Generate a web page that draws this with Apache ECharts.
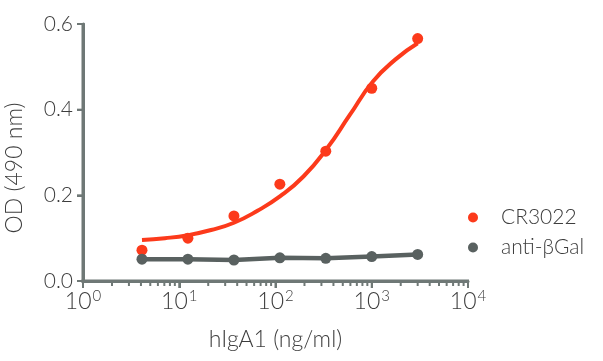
<!DOCTYPE html>
<html><head><meta charset="utf-8">
<script src="https://cdn.jsdelivr.net/npm/echarts@6/dist/echarts.min.js"></script>
<style>html,body{margin:0;padding:0;background:#fff}#c{width:603px;height:361px}</style>
</head><body><div id="c"></div>
<script>
// concentrations (ng/ml)
var conc = [4.1, 12.3, 37, 111, 333, 1000, 3000];
var cr3022 = [0.072, 0.100, 0.152, 0.226, 0.303, 0.450, 0.566];
var antiBGal = [0.051, 0.051, 0.049, 0.054, 0.053, 0.057, 0.062];
// fitted curve for CR3022
var fitX = [4.1, 7.1, 12.3, 21.4, 37, 65, 112, 195, 339, 589, 1023, 1778, 3000];
var fitY = [0.096, 0.100, 0.107, 0.119, 0.136, 0.164, 0.198, 0.244, 0.308, 0.387, 0.465, 0.518, 0.555];
var xDomain = [1, 10000];
var yDomain = [0, 0.6];
var xMajor = [1, 10, 100, 1000, 10000];
var yTicks = [0, 0.2, 0.4, 0.6];
var xMinor = [2, 3, 4, 5, 6, 7, 8, 9, 20, 30, 40, 50, 60, 70, 80, 90,
  200, 300, 400, 500, 600, 700, 800, 900, 2000, 3000, 4000, 5000, 6000, 7000, 8000, 9000];

var FONT = 'Lato';
var TXT = '#3d3d3d';
var AX = '#6f7876';
var RED = '#fc3a1b';
var GRAY = '#596160';

function pairs(xs, ys) { return xs.map(function (x, i) { return [x, ys[i]]; }); }

var chart = echarts.init(document.getElementById('c'));
chart.setOption({
  animation: false,
  textStyle: { fontFamily: FONT, fontWeight: 300 },
  grid: { left: 83, right: 135, top: 24, bottom: 80, containLabel: false },
  legend: {
    orient: 'vertical', left: 463, top: 202, itemGap: 9, itemWidth: 10, itemHeight: 10,
    icon: 'circle',
    data: ['CR3022', 'anti-βGal'],
    textStyle: { fontFamily: FONT, fontWeight: 300, fontSize: 21, color: TXT, padding: [0, 0, 0, 18] }
  },
  xAxis: {
    type: 'log', logBase: 10, min: xDomain[0], max: xDomain[1],
    name: 'hIgA1 (ng/ml)', nameLocation: 'middle', nameGap: 47,
    nameTextStyle: { fontFamily: FONT, fontWeight: 300, fontSize: 23, color: TXT },
    axisLine: { show: true, onZero: false, lineStyle: { color: AX, width: 3 } },
    axisTick: { show: true, length: 7, lineStyle: { color: AX, width: 2 } },
    splitLine: { show: false },
    axisLabel: {
      margin: 8, color: TXT, fontFamily: FONT, fontWeight: 300, fontSize: 23,
      formatter: function (v) { return '10{s|' + Math.round(Math.log10(v)) + '}'; },
      rich: { s: { fontSize: 15, fontFamily: FONT, fontWeight: 300, color: TXT, verticalAlign: 'bottom', padding: [0, 0, 10, 1] } }
    }
  },
  yAxis: {
    type: 'value', min: yDomain[0], max: yDomain[1], interval: 0.2,
    axisLine: { show: true, onZero: false, lineStyle: { color: AX, width: 3 } },
    axisTick: { show: true, length: 6, lineStyle: { color: AX, width: 2 } },
    splitLine: { show: false },
    axisLabel: { margin: 10, color: TXT, fontFamily: FONT, fontWeight: 300, fontSize: 21,
      formatter: function (v) { return v.toFixed(1); } }
  },
  graphic: [{
    type: 'text', x: 15, y: 168, rotation: Math.PI / 2,
    style: { text: 'OD (490 nm)', fontFamily: FONT, fontWeight: 300, fontSize: 23, fill: TXT,
      align: 'center', verticalAlign: 'middle' }
  }],
  series: [{
    name: 'axis frame', type: 'custom', silent: true, clip: false, z: 5,
    data: [[xDomain[0], yDomain[0], xDomain[1], yDomain[1]]],
    renderItem: function (params, api) {
      var o = api.coord([api.value(0), api.value(1)]);
      var xe = api.coord([api.value(2), api.value(1)]);
      var ye = api.coord([api.value(0), api.value(3)]);
      var children = [
        { type: 'line', shape: { x1: o[0] - 1.5, y1: o[1], x2: xe[0] + 1, y2: xe[1] }, style: { stroke: AX, lineWidth: 3 } },
        { type: 'line', shape: { x1: o[0], y1: o[1] + 1.5, x2: ye[0], y2: ye[1] - 1 }, style: { stroke: AX, lineWidth: 3 } }
      ];
      xMajor.forEach(function (v) {
        var p = api.coord([v, yDomain[0]]);
        children.push({ type: 'line', shape: { x1: p[0], y1: p[1], x2: p[0], y2: p[1] + 7 }, style: { stroke: AX, lineWidth: 2 } });
      });
      yTicks.forEach(function (v) {
        var p = api.coord([xDomain[0], v]);
        children.push({ type: 'line', shape: { x1: p[0] - 6, y1: p[1], x2: p[0], y2: p[1] }, style: { stroke: AX, lineWidth: 2 } });
      });
      return { type: 'group', children: children };
    }
  }, {
    name: 'minor ticks', type: 'custom', silent: true, clip: false, z: 5,
    data: xMinor.map(function (v) { return [v, yDomain[0]]; }),
    renderItem: function (params, api) {
      var p = api.coord([api.value(0), api.value(1)]);
      return { type: 'line', shape: { x1: p[0], y1: p[1], x2: p[0], y2: p[1] + 5 },
        style: { stroke: AX, lineWidth: 2 } };
    }
  }, {
    name: 'CR3022 fit', type: 'line', smooth: 0.5, symbol: 'none',
    data: pairs(fitX, fitY), lineStyle: { color: RED, width: 4 }, itemStyle: { color: RED }, z: 2
  }, {
    name: 'CR3022', type: 'scatter', symbolSize: 11,
    data: pairs(conc, cr3022), itemStyle: { color: RED, opacity: 1 }, z: 3
  }, {
    name: 'anti-βGal', type: 'line', symbol: 'circle', symbolSize: 11, showSymbol: true,
    data: pairs(conc, antiBGal), lineStyle: { color: GRAY, width: 4.5 }, itemStyle: { color: GRAY }, z: 3
  }]
});
</script>
</body></html>
